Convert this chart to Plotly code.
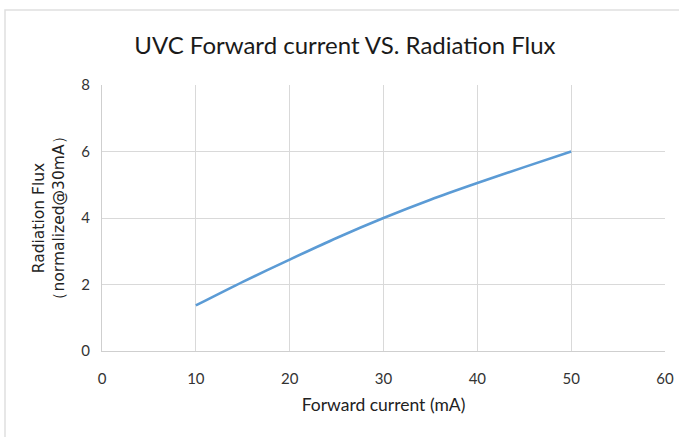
import plotly.graph_objects as go

current_ma = [10, 15, 20, 25, 30, 35, 40, 45, 50]
radiation_flux = [1.37, 2.08, 2.75, 3.40, 4.0, 4.55, 5.05, 5.53, 6.0]
x_ticks = [0, 10, 20, 30, 40, 50, 60]
y_ticks = [0, 2, 4, 6, 8]

FONT = "Lato"
fig = go.Figure()
fig.add_trace(go.Scatter(
    x=current_ma, y=radiation_flux, mode="lines",
    line=dict(color="#5B9BD5", width=2.6, shape="spline", smoothing=0.6),
    showlegend=False, hoverinfo="x+y",
))

fig.update_layout(
    width=679, height=437,
    margin=dict(l=102, r=14, t=85, b=86, autoexpand=False),
    paper_bgcolor="white", plot_bgcolor="white",
    title=dict(text="UVC Forward current VS. Radiation Flux", x=0.508, xanchor="center",
               y=0.895, yanchor="middle", font=dict(family=FONT, size=24, color="#1a1a1a")),
    font=dict(family=FONT, size=15, color="#333333"),
    xaxis=dict(range=[0, 60], tickvals=x_ticks, showgrid=True, gridcolor="#d9d9d9", gridwidth=1,
               zeroline=False, showline=True, linecolor="#cfcfcf", linewidth=1.2,
               ticks="outside", ticklen=14, tickcolor="rgba(0,0,0,0)", automargin=False,
               title=dict(text="Forward current (mA)", font=dict(family=FONT, size=17.5, color="#222222"), standoff=12),
               tickfont=dict(size=15, color="#333333")),
    yaxis=dict(range=[0, 8], tickvals=y_ticks, showgrid=True, gridcolor="#d9d9d9", gridwidth=1,
               zeroline=False, showline=True, linecolor="#cfcfcf", linewidth=1.2,
               ticks="outside", ticklen=8, tickcolor="rgba(0,0,0,0)", automargin=False,
               title=dict(text="Radiation Flux<br>（normalized@30mA）", font=dict(family="DejaVu Sans", size=15.5, color="#222222"), standoff=12),
               tickfont=dict(size=15, color="#333333")),
    shapes=[dict(type="rect", xref="paper", yref="paper",
                 x0=(5 - 102) / 563, x1=(690 - 102) / 563,
                 y0=(351 - 450) / 266, y1=(351 - 10) / 266,
                 line=dict(color="#e0e0e0", width=1.5), fillcolor="rgba(0,0,0,0)", layer="below")],
)

fig.write_html("out.html", config={"displayModeBar": False},
               post_script="document.body.style.margin='0';document.body.style.overflow='hidden';")
